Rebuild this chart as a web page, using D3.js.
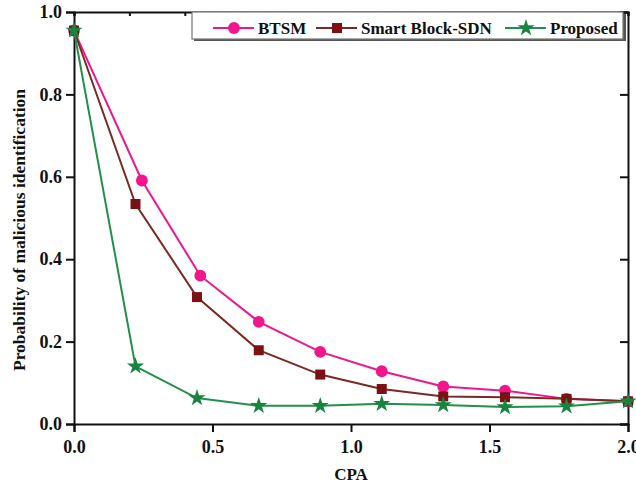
<!DOCTYPE html>
<html>
<head>
<meta charset="utf-8">
<script src="https://cdn.jsdelivr.net/npm/d3@7"></script>
<style>
  body { margin: 0; background: #fff; }
  text { font-family: "Liberation Serif", "Times New Roman", Times, serif; font-weight: bold; }
</style>
</head>
<body>
<script>
// data
const cpa = [0, 0.222, 0.444, 0.667, 0.889, 1.111, 1.333, 1.556, 1.778, 2.0];
const cpaBtsm = [0, 0.245, 0.456, 0.667, 0.889, 1.111, 1.333, 1.556, 1.778, 2.0];
const btsm = [0.955, 0.591, 0.360, 0.248, 0.175, 0.128, 0.091, 0.081, 0.061, 0.055];
const smartBlock = [0.955, 0.534, 0.308, 0.179, 0.120, 0.085, 0.067, 0.065, 0.061, 0.055];
const proposed = [0.955, 0.140, 0.063, 0.044, 0.044, 0.049, 0.046, 0.041, 0.043, 0.055];
const xTicks = [0, 0.5, 1.0, 1.5, 2.0];
const yTicks = [0, 0.2, 0.4, 0.6, 0.8, 1.0];
const seriesNames = ['BTSM', 'Smart Block-SDN', 'Proposed'];

const W = 636, H = 485;
const margin = {top: 12, right: 8, bottom: 61, left: 74};
const innerW = W - margin.left - margin.right;
const innerH = H - margin.top - margin.bottom;

const svg = d3.select('body').append('svg').attr('width', W).attr('height', H);
const g = svg.append('g').attr('transform', `translate(${margin.left},${margin.top})`);

const x = d3.scaleLinear().domain([0, 2]).range([0, innerW]);
const y = d3.scaleLinear().domain([0, 1]).range([innerH, 0]);

// axes
const fmt = d3.format('.1f');
const xAxisG = g.append('g').attr('transform', `translate(0,${innerH})`)
  .call(d3.axisBottom(x).tickValues(xTicks).tickFormat(fmt).tickSize(8).tickPadding(8));
const yAxisG = g.append('g')
  .call(d3.axisLeft(y).tickValues(yTicks).tickFormat(fmt).tickSize(8).tickPadding(4));
const topG = g.append('g')
  .call(d3.axisTop(x).ticks(8).tickFormat('').tickSize(-4));
const rightG = g.append('g').attr('transform', `translate(${innerW},0)`)
  .call(d3.axisRight(y).tickValues(yTicks).tickFormat('').tickSize(-8));

[xAxisG, yAxisG, topG, rightG].forEach(a => {
  a.attr('font-family', null);
  a.select('.domain').attr('stroke', '#111').attr('stroke-width', 2);
  a.selectAll('.tick line').attr('stroke', '#111').attr('stroke-width', 2);
  a.selectAll('.tick text').attr('fill', '#111').style('font-size', '18px');
});

// axis titles
svg.append('text').text('CPA')
  .attr('x', margin.left + x(1)).attr('y', 480)
  .attr('text-anchor', 'middle').style('font-size', '17px').attr('fill', '#111');
svg.append('text').text('Probability of malicious identification')
  .attr('transform', `translate(25,230) rotate(-90)`)
  .attr('text-anchor', 'middle').style('font-size', '17.5px').attr('fill', '#111');

// series
const series = [
  {name: seriesNames[0], xs: cpaBtsm, ys: btsm, color: '#f0168c', line: '#f0168c', shape: 'circle'},
  {name: seriesNames[1], xs: cpa, ys: smartBlock, color: '#7a1214', line: '#7a2a22', shape: 'square'},
  {name: seriesNames[2], xs: cpa, ys: proposed, color: '#17853f', line: '#22904a', shape: 'star'}
];

const line = d3.line().x(d => x(d[0])).y(d => y(d[1]));
const symbolOf = s => s === 'circle' ? d3.symbol(d3.symbolCircle, 110)
  : s === 'square' ? d3.symbol(d3.symbolSquare, 100)
  : d3.symbol(d3.symbolStar, 90);

series.forEach(s => {
  const pts = s.xs.map((v, i) => [v, s.ys[i]]);
  g.append('path').datum(pts).attr('d', line)
    .attr('fill', 'none').attr('stroke', s.line).attr('stroke-width', 2);
  g.selectAll(null).data(pts).enter().append('path')
    .attr('transform', d => `translate(${x(d[0])},${y(d[1])})`)
    .attr('d', symbolOf(s.shape)).attr('fill', s.color);
});

// legend
const lg = svg.append('g');
lg.append('rect').attr('x', 194).attr('y', 14).attr('width', 432).attr('height', 27)
  .attr('fill', '#555');
lg.append('rect').attr('x', 192).attr('y', 12).attr('width', 431).attr('height', 27)
  .attr('fill', '#fff').attr('stroke', '#777').attr('stroke-width', 1.2);
const legendX = [213, 316, 505];
series.forEach((s, i) => {
  const lx = legendX[i];
  lg.append('line').attr('x1', lx).attr('x2', lx + 41).attr('y1', 28).attr('y2', 28)
    .attr('stroke', s.line).attr('stroke-width', 2);
  lg.append('path').attr('transform', `translate(${lx + 21},28)`)
    .attr('d', symbolOf(s.shape)).attr('fill', s.color);
  lg.append('text').text(s.name).attr('x', lx + 45).attr('y', 34)
    .style('font-size', '17px').attr('fill', '#111');
});
</script>
</body>
</html>
